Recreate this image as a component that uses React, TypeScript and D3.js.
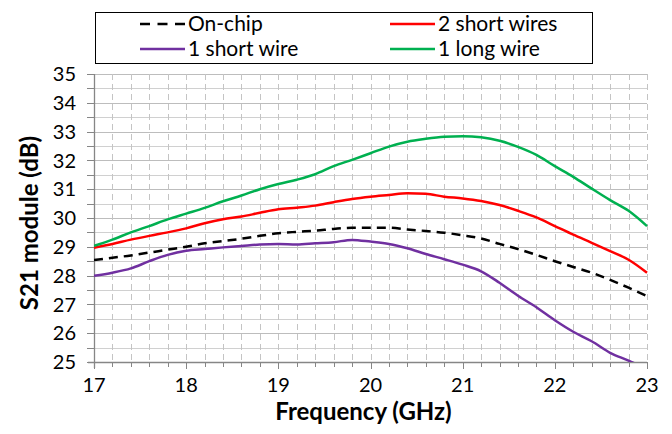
import React from "react";
import * as d3 from "d3";

// frequency points (GHz), 0.2 GHz step
const freqs = [
  17.0, 17.2, 17.4, 17.6, 17.8, 18.0, 18.2, 18.4, 18.6, 18.8, 19.0, 19.2, 19.4, 19.6, 19.8, 20.0,
  20.2, 20.4, 20.6, 20.8, 21.0, 21.2, 21.4, 21.6, 21.8, 22.0, 22.2, 22.4, 22.6, 22.8, 23.0,
];

const onChip = [
  28.54, 28.62, 28.7, 28.8, 28.9, 29.0, 29.12, 29.2, 29.28, 29.38, 29.47, 29.52, 29.56, 29.62, 29.66, 29.66,
  29.66, 29.6, 29.55, 29.49, 29.4, 29.29, 29.1, 28.92, 28.72, 28.5, 28.3, 28.1, 27.85, 27.58, 27.29,
];
const twoShort = [
  28.97, 29.1, 29.25, 29.38, 29.5, 29.64, 29.82, 29.96, 30.05, 30.18, 30.3, 30.36, 30.43, 30.55, 30.66, 30.74,
  30.8, 30.86, 30.84, 30.74, 30.68, 30.59, 30.45, 30.25, 30.02, 29.72, 29.42, 29.14, 28.85, 28.55, 28.1,
];
const oneShort = [
  27.99, 28.1, 28.25, 28.5, 28.72, 28.86, 28.92, 28.98, 29.03, 29.08, 29.1, 29.08, 29.12, 29.16, 29.24, 29.18,
  29.1, 28.95, 28.75, 28.57, 28.38, 28.15, 27.75, 27.3, 26.9, 26.45, 26.05, 25.72, 25.32, 25.05, 24.75,
];
const oneLong = [
  29.03, 29.25, 29.5, 29.72, 29.95, 30.15, 30.35, 30.58, 30.78, 31.0, 31.18, 31.33, 31.52, 31.8, 32.02, 32.25,
  32.48, 32.65, 32.75, 32.82, 32.84, 32.8, 32.68, 32.47, 32.19, 31.8, 31.43, 31.02, 30.62, 30.25, 29.72,
];

const xTicks = [17, 18, 19, 20, 21, 22, 23];
const yTicks = [25, 26, 27, 28, 29, 30, 31, 32, 33, 34, 35];

const series = [
  { name: "On-chip", values: onChip, color: "#000000", dash: "9,6" },
  { name: "2 short wires", values: twoShort, color: "#FF0000", dash: null },
  { name: "1 short wire", values: oneShort, color: "#7030A0", dash: null },
  { name: "1 long wire", values: oneLong, color: "#00B050", dash: null },
];

const W = 672, H = 434;
const margin = { top: 74, right: 25, bottom: 72, left: 94 };
const font = "Lato, 'Open Sans', sans-serif";

export default function App() {
  const w = W - margin.left - margin.right;
  const h = H - margin.top - margin.bottom;

  const x = d3.scaleLinear().domain([17, 23]).range([0, w]);
  const y = d3.scaleLinear().domain([25, 35]).range([h, 0]);

  const minorX = d3.range(17, 23.001, 0.2);
  const minorY = d3.range(25, 35.001, 0.5);

  const line = d3.line<number>()
    .x((_, i) => x(freqs[i]))
    .y(d => y(d))
    .curve(d3.curveMonotoneX);

  return (
    <svg width={W} height={H} style={{ position: "absolute", left: 0, top: 0, background: "#fff" }}>
      <defs>
        <clipPath id="plot">
          <rect x={0} y={-2} width={w + 2} height={h + 2} />
        </clipPath>
      </defs>

      {/* legend box */}
      <rect x={95.5} y={12.5} width={497} height={51} fill="#fff" stroke="#000" strokeWidth={1} />
      {series.map((s, i) => {
        const col = i % 2;
        const row = Math.floor(i / 2);
        const lx = col === 0 ? 140 : 390;
        const ly = row === 0 ? 24 : 49;
        return (
          <g key={s.name}>
            <line x1={lx} x2={lx + 45} y1={ly} y2={ly} stroke={s.color} strokeWidth={2.5}
              strokeDasharray={s.dash ? "10,7.5" : undefined} />
            <text x={lx + 48} y={ly} dy="0.35em" fontFamily={font} fontSize={21} fill="#000">{s.name}</text>
          </g>
        );
      })}

      <g transform={`translate(${margin.left},${margin.top})`}>
        {/* horizontal gridlines */}
        {minorY.map(v => (
          <line key={"h" + v} x1={0} x2={w} y1={Math.round(y(v)) + 0.5} y2={Math.round(y(v)) + 0.5}
            stroke={Number.isInteger(Math.round(v * 10) / 10) ? "#BDBDBD" : "#D0D0D0"} strokeWidth={1} />
        ))}
        {/* vertical dashed gridlines */}
        {minorX.slice(1).map(v => (
          <line key={"v" + v} x1={Math.round(x(v)) + 0.5} x2={Math.round(x(v)) + 0.5} y1={0} y2={h}
            stroke="#C4C4C4" strokeWidth={1} strokeDasharray="6,4" />
        ))}

        {/* axes */}
        <line x1={0.5} x2={0.5} y1={0} y2={h + 6} stroke="#868686" strokeWidth={1.3} />
        <line x1={-6} x2={w} y1={h + 0.5} y2={h + 0.5} stroke="#868686" strokeWidth={1.3} />
        {minorY.map(v => (
          <line key={"yt" + v} x1={-7} x2={0} y1={Math.round(y(v)) + 0.5} y2={Math.round(y(v)) + 0.5}
            stroke="#868686" strokeWidth={1} />
        ))}
        {minorX.map(v => (
          <line key={"xt" + v} x1={Math.round(x(v)) + 0.5} x2={Math.round(x(v)) + 0.5} y1={h}
            y2={h + (Math.abs(v - Math.round(v)) < 0.01 ? 7 : 5)} stroke="#868686" strokeWidth={1} />
        ))}
        {yTicks.map(v => (
          <text key={"yl" + v} x={-18} y={y(v)} dy="0.36em" textAnchor="end" fontFamily={font}
            fontSize={20} fill="#000">{v}</text>
        ))}
        {xTicks.map(v => (
          <text key={"xl" + v} x={x(v)} y={h + 30} textAnchor="middle" fontFamily={font}
            fontSize={20} fill="#000">{v}</text>
        ))}

        {/* series */}
        <g clipPath="url(#plot)">
          {series.map(s => (
            <path key={s.name} d={line(s.values) ?? ""} fill="none" stroke={s.color} strokeWidth={2.5}
              strokeDasharray={s.dash ?? undefined} strokeLinejoin="round" />
          ))}
        </g>

        {/* axis titles */}
        <text x={w / 2 - 7} y={h + 58} textAnchor="middle" fontFamily={font} fontWeight="bold"
          fontSize={24} fill="#000">Frequency (GHz)</text>
        <text transform={`translate(${-64},${h / 2 + 5}) rotate(-90)`} textAnchor="middle" dy="0.35em"
          fontFamily={font} fontWeight="bold" fontSize={24} fill="#000">S21 module (dB)</text>
      </g>
    </svg>
  );
}
